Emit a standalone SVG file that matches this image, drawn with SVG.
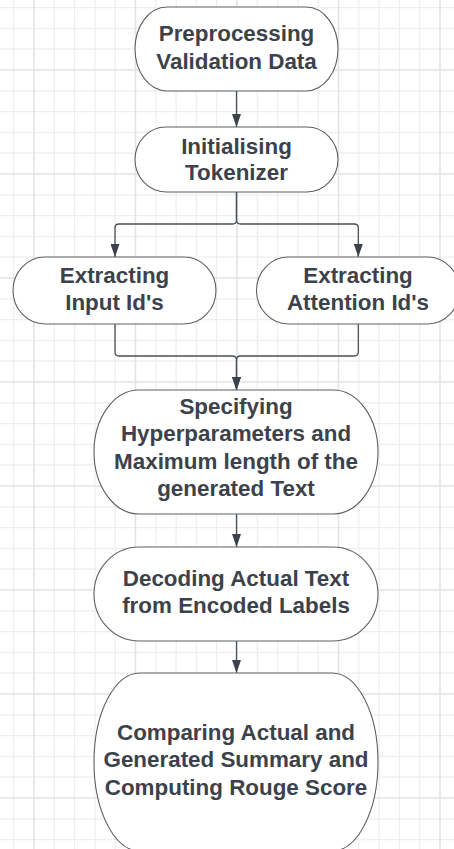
<svg xmlns="http://www.w3.org/2000/svg" width="454" height="849" viewBox="0 0 454 849">
<style>
.gmin{stroke:#eeeeee;stroke-width:1.2;fill:none}
.gmaj{stroke:#e2e2e2;stroke-width:1.5;fill:none}
.node rect{fill:#ffffff;stroke:#5a6067;stroke-width:1.1}
.node text{font-family:"Liberation Sans",Arial,sans-serif;font-weight:bold;font-size:22.4px;fill:#3b424b;text-anchor:middle}
.conn{fill:none;stroke:#4a5057;stroke-width:1.3}
</style>
<defs>
<marker id="arr" viewBox="0 0 13 9" refX="13" refY="4.5" markerWidth="13" markerHeight="9" markerUnits="userSpaceOnUse" orient="auto">
<path d="M0,0 L13,4.5 L0,9 z" fill="#3b424b"/>
</marker>
</defs>
<rect x="0" y="0" width="454" height="849" fill="#ffffff"/>
<g id="grid">
<path class="gmin" d="M13.7 0V849M54.3 0V849M74.6 0V849M94.9 0V849M115.2 0V849M155.8 0V849M176.1 0V849M196.4 0V849M216.7 0V849M257.3 0V849M277.6 0V849M297.9 0V849M318.2 0V849M358.8 0V849M379.1 0V849M399.4 0V849M419.7 0V849
M0 7.6H454M0 28.4H454M0 49.2H454M0 90.8H454M0 111.6H454M0 132.4H454M0 153.2H454M0 194.8H454M0 215.6H454M0 236.4H454M0 257.2H454M0 298.8H454M0 319.6H454M0 340.4H454M0 361.2H454M0 402.8H454M0 423.6H454M0 444.4H454M0 465.2H454M0 506.8H454M0 527.6H454M0 548.4H454M0 569.2H454M0 610.8H454M0 631.6H454M0 652.4H454M0 673.2H454M0 714.8H454M0 735.6H454M0 756.4H454M0 777.2H454M0 818.8H454M0 839.6H454"/>
<path class="gmaj" d="M34 0V849M135.5 0V849M237 0V849M338.5 0V849M440 0V849M0 70H454M0 174H454M0 278H454M0 382H454M0 486H454M0 590H454M0 694H454M0 798H454"/>
</g>
<g id="connectors">
<path class="conn" d="M236.5 91V127" marker-end="url(#arr)"/>
<path class="conn" d="M236.5 192V220Q236.5 224 232.5 224H119Q115 224 115 228V257" marker-end="url(#arr)"/>
<path class="conn" d="M236.5 192V220Q236.5 224 240.5 224H354.3Q358.3 224 358.3 228V257" marker-end="url(#arr)"/>
<path class="conn" d="M115 324V352Q115 356 119 356H232.5Q236.5 356 236.5 360V390" marker-end="url(#arr)"/>
<path class="conn" d="M358.3 324V352Q358.3 356 354.3 356H240.5Q236.5 356 236.5 360V390" marker-end="url(#arr)"/>
<path class="conn" d="M236.5 514V547" marker-end="url(#arr)"/>
<path class="conn" d="M236.5 641V673" marker-end="url(#arr)"/>
</g>
<g id="n1" class="node">
<rect x="135" y="7" width="203" height="84" rx="32" ry="42"/>
<text x="236.5" y="41">Preprocessing</text>
<text x="236.5" y="68.5">Validation Data</text>
</g>
<g id="n2" class="node">
<rect x="135" y="127" width="203" height="65" rx="31" ry="32.5"/>
<text x="236.5" y="153.5">Initialising</text>
<text x="236.5" y="180">Tokenizer</text>
</g>
<g id="n3" class="node">
<rect x="13" y="257" width="203" height="67" rx="32" ry="33.5"/>
<text x="114.5" y="283">Extracting</text>
<text x="114.5" y="309.5">Input Id's</text>
</g>
<g id="n4" class="node">
<rect x="256.5" y="257" width="203" height="67" rx="32" ry="33.5"/>
<text x="358" y="283">Extracting</text>
<text x="358" y="309.5">Attention Id's</text>
</g>
<g id="n5" class="node">
<rect x="94" y="390" width="284" height="124" rx="45" ry="62"/>
<text x="236" y="414">Specifying</text>
<text x="236" y="441.4">Hyperparameters and</text>
<text x="236" y="468.8">Maximum length of the</text>
<text x="236" y="496.2">generated Text</text>
</g>
<g id="n6" class="node">
<rect x="94" y="547" width="284" height="94" rx="45" ry="47"/>
<text x="236" y="586">Decoding Actual Text</text>
<text x="236" y="613">from Encoded Labels</text>
</g>
<g id="n7" class="node">
<rect x="94" y="673" width="284" height="178" rx="46" ry="89"/>
<text x="236" y="740">Comparing Actual and</text>
<text x="236" y="767.4">Generated Summary and</text>
<text x="236" y="794.8">Computing Rouge Score</text>
</g>
</svg>
